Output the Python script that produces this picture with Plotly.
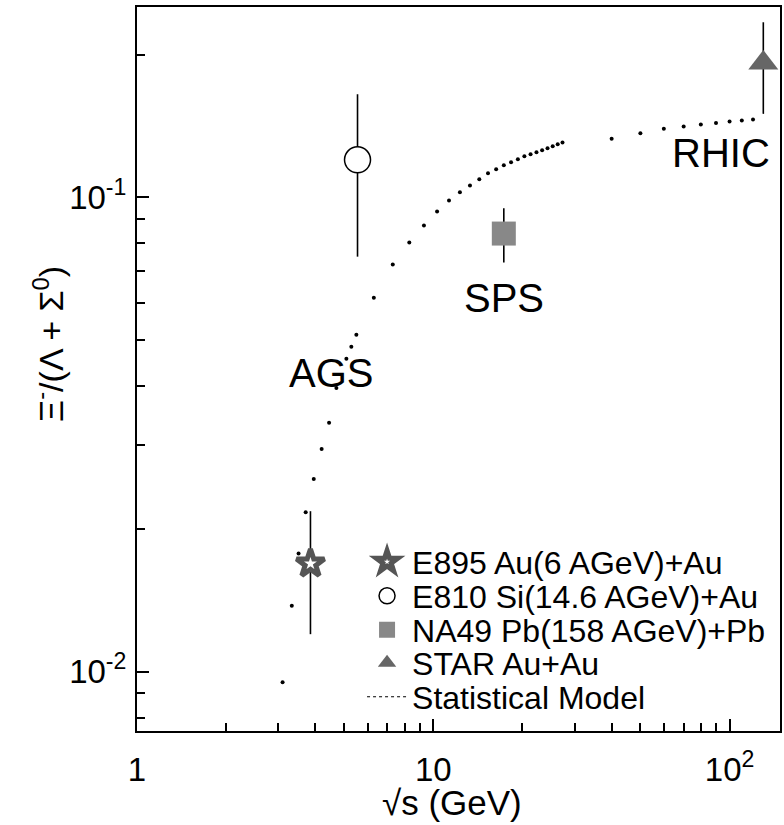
import plotly.graph_objects as go
import numpy as np

# Data
e895_x = [3.85]; e895_y = [0.0169]; e895_err = [0.0049]
e810_x = [5.55]; e810_y = [0.120]; e810_err = [0.045]
na49_x = [17.3]; na49_y = [0.0839]; na49_err = [0.011]
star_x = [130.0]; star_y = [0.192]; star_err = [0.042]

model_x = [3.10, 3.33, 3.51, 3.71, 3.95, 4.2, 4.45, 4.71, 5.09, 5.29, 5.50,
           6.3, 7.3, 8.3, 9.3, 10.3, 11.3, 12.3, 13.3, 14.3, 15.3, 16.3, 17.3,
           18.3, 19.3, 20.3, 21.3, 22.3, 23.3, 24.3, 25.3, 26.3, 27.3,
           40, 50, 60, 70, 80, 90, 100, 110, 120]
model_y = [0.00950, 0.01378, 0.01776, 0.02169, 0.0255, 0.0295, 0.0335, 0.03966, 0.04567, 0.04842, 0.05133,
           0.06146, 0.07217, 0.08032, 0.08727, 0.09342, 0.09855, 0.1025, 0.1060, 0.1092, 0.1124, 0.1146, 0.1169,
           0.1186, 0.1203, 0.1221, 0.1233, 0.1245, 0.1257, 0.1269, 0.1282, 0.1294, 0.1305,
           0.1330, 0.1365, 0.1395, 0.1410, 0.1425, 0.1435, 0.1445, 0.1452, 0.1460]

labels = ["E895 Au(6 AGeV)+Au", "E810 Si(14.6 AGeV)+Au", "NA49 Pb(158 AGeV)+Pb",
          "STAR Au+Au", "Statistical Model"]

FONT = "Liberation Sans, Arial, Helvetica, sans-serif"
LEG_FONT = dict(family=FONT, size=32, color="black")

fig = go.Figure()

# model points
fig.add_trace(go.Scatter(x=model_x, y=model_y, mode="markers",
                         marker=dict(color="black", size=4),
                         showlegend=False, hoverinfo="skip"))

def err(v):
    return dict(type="data", array=v, visible=True, color="black", thickness=1.6, width=0)

fig.add_trace(go.Scatter(x=e895_x, y=e895_y, mode="markers", name=labels[0],
                         error_y=err(e895_err), legend="legend",
                         marker=dict(symbol="star", size=21, color="white",
                                     line=dict(color="#555555", width=5))))
fig.add_trace(go.Scatter(x=e810_x, y=e810_y, mode="markers", name=labels[1],
                         error_y=err(e810_err), legend="legend2",
                         marker=dict(symbol="circle", size=26, color="white",
                                     line=dict(color="black", width=1.5))))
fig.add_trace(go.Scatter(x=na49_x, y=na49_y, mode="markers", name=labels[2],
                         error_y=err(na49_err), legend="legend3",
                         marker=dict(symbol="square", size=24, color="#888888",
                                     line=dict(width=0))))
fig.add_trace(go.Scatter(x=star_x, y=star_y, mode="markers", name=labels[3],
                         error_y=err(star_err), legend="legend4",
                         marker=dict(symbol="triangle-up", size=26, color="#666666",
                                     line=dict(width=0))))
# legend entry for model (dotted line)
fig.add_trace(go.Scatter(x=[None], y=[None], mode="lines", name=labels[4], legend="legend5",
                         line=dict(color="black", dash="dot", width=1.2)))

axis_common = dict(type="log", showline=True, linecolor="black", linewidth=2,
                   mirror=True, ticks="inside", ticklen=12, tickwidth=1.5,
                   tickcolor="black", showgrid=False, zeroline=False,
                   tickfont=dict(family=FONT, size=33, color="black"))

fig.update_xaxes(**axis_common, range=[0, np.log10(148)],
                 tickvals=[1, 10, 100], ticktext=["1", "10", "10<sup>2</sup>"],
                 ticklabelstandoff=8,
                 minor=dict(ticks="inside", ticklen=8, tickwidth=1.5, tickcolor="black",
                            tickvals=[2, 3, 4, 5, 6, 7, 8, 9, 20, 30, 40, 50, 60, 70, 80, 90]))
fig.update_yaxes(**axis_common, range=[np.log10(0.0075), np.log10(0.252)],
                 tickvals=[0.01, 0.1], ticktext=["10<sup>-2</sup>", "10<sup>-1</sup>"],
                 ticklabelstandoff=2,
                 minor=dict(ticks="inside", ticklen=8, tickwidth=1.5, tickcolor="black",
                            tickvals=[0.008, 0.009, 0.02, 0.03, 0.04, 0.05, 0.06, 0.07, 0.08, 0.09, 0.2]))

# axis titles
fig.add_annotation(xref="paper", yref="paper", x=0.49, y=-0.099, text="√s (GeV)",
                   showarrow=False, xanchor="center", yanchor="middle",
                   font=dict(family=FONT, size=35, color="black"))
fig.add_annotation(xref="paper", yref="paper", x=-0.138, y=0.535,
                   text="Ξ<sup>-</sup>/(Λ + Σ<sup>0</sup>)", textangle=-90,
                   showarrow=False, xanchor="center", yanchor="middle",
                   font=dict(family=FONT, size=34, color="black"))

ann_font = dict(family=FONT, size=40, color="black")
fig.add_annotation(x=np.log10(4.52), y=np.log10(0.0427), text="AGS", showarrow=False, font=ann_font)
fig.add_annotation(x=np.log10(17.3), y=np.log10(0.0615), text="SPS", showarrow=False, font=ann_font)
fig.add_annotation(x=np.log10(93.6), y=np.log10(0.1238), text="RHIC", showarrow=False, font=ann_font)

def leg(ypos):
    return dict(x=0.35, y=ypos, xanchor="left", yanchor="middle",
                bgcolor="rgba(0,0,0,0)", borderwidth=0, font=LEG_FONT,
                itemwidth=40, tracegroupgap=0)

fig.update_layout(width=784, height=825,
                  margin=dict(l=137, r=2, t=7, b=94),
                  paper_bgcolor="white", plot_bgcolor="white",
                  font=dict(family=FONT, color="black"),
                  legend=leg(0.2334), legend2=leg(0.1865), legend3=leg(0.1395),
                  legend4=leg(0.0939), legend5=leg(0.047))

fig.write_html("out.html")
